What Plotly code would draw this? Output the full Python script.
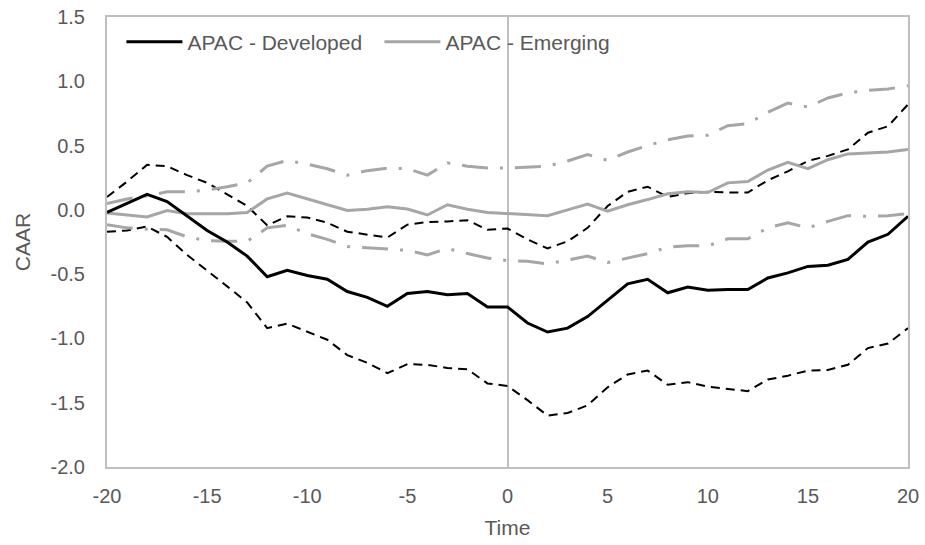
import plotly.graph_objects as go

time = list(range(-20, 21))

dev_mean = [-0.02, 0.05, 0.12, 0.065, -0.05, -0.16, -0.25, -0.36, -0.52, -0.47, -0.51,
            -0.54, -0.635, -0.68, -0.75, -0.65, -0.635, -0.66, -0.65, -0.755, -0.755,
            -0.88, -0.95, -0.92, -0.83, -0.70, -0.575, -0.54, -0.645, -0.60, -0.625,
            -0.62, -0.62, -0.53, -0.49, -0.44, -0.43, -0.385, -0.25, -0.19, -0.05]
dev_upper = [0.10, 0.22, 0.35, 0.34, 0.27, 0.21, 0.12, 0.03, -0.12, -0.05, -0.06,
             -0.10, -0.17, -0.19, -0.215, -0.115, -0.095, -0.09, -0.08, -0.155, -0.145,
             -0.23, -0.30, -0.245, -0.14, 0.03, 0.14, 0.18, 0.10, 0.13, 0.14,
             0.135, 0.135, 0.23, 0.30, 0.38, 0.42, 0.47, 0.60, 0.65, 0.82]
dev_lower = [-0.17, -0.16, -0.13, -0.21, -0.35, -0.47, -0.595, -0.72, -0.92, -0.885, -0.945,
             -1.01, -1.13, -1.19, -1.27, -1.20, -1.205, -1.23, -1.24, -1.35, -1.37,
             -1.48, -1.60, -1.58, -1.52, -1.38, -1.28, -1.25, -1.36, -1.34, -1.375,
             -1.39, -1.41, -1.32, -1.29, -1.25, -1.245, -1.205, -1.075, -1.04, -0.92]
emg_mean = [-0.025, -0.04, -0.055, -0.005, -0.03, -0.03, -0.03, -0.02, 0.085, 0.13, 0.085,
            0.04, -0.005, 0.005, 0.025, 0.007, -0.04, 0.04, 0.005, -0.02, -0.03,
            -0.035, -0.045, 0.0, 0.045, -0.01, 0.04, 0.08, 0.125, 0.14, 0.135,
            0.21, 0.22, 0.31, 0.37, 0.32, 0.39, 0.435, 0.445, 0.45, 0.47]
emg_upper = [0.05, 0.085, 0.11, 0.14, 0.14, 0.155, 0.18, 0.21, 0.34, 0.385, 0.355,
             0.32, 0.27, 0.305, 0.325, 0.32, 0.27, 0.365, 0.34, 0.325, 0.325,
             0.33, 0.34, 0.38, 0.43, 0.385, 0.45, 0.50, 0.545, 0.575, 0.58,
             0.655, 0.67, 0.76, 0.83, 0.80, 0.87, 0.91, 0.93, 0.94, 0.965]
emg_lower = [-0.115, -0.14, -0.15, -0.155, -0.21, -0.24, -0.245, -0.245, -0.14, -0.12, -0.185,
             -0.23, -0.285, -0.295, -0.30, -0.315, -0.35, -0.30, -0.34, -0.375, -0.395,
             -0.40, -0.42, -0.39, -0.36, -0.41, -0.375, -0.34, -0.29, -0.28, -0.28,
             -0.225, -0.225, -0.14, -0.10, -0.14, -0.09, -0.045, -0.05, -0.045, -0.03]

x_ticks = [-20, -15, -10, -5, 0, 5, 10, 15, 20]
x_tick_labels = ["-20", "-15", "-10", "-5", "0", "5", "10", "15", "20"]
y_ticks = [-2.0, -1.5, -1.0, -0.5, 0.0, 0.5, 1.0, 1.5]
y_tick_labels = ["-2.0", "-1.5", "-1.0", "-0.5", "0.0", "0.5", "1.0", "1.5"]

BLACK = "#000000"
GRAY = "#a6a6a6"
AXIS = "#bfbfbf"
TEXT = "#595959"
FONT = "Liberation Sans, Arial, sans-serif"
DASHDOT = "26px,12px,3px,12px"

fig = go.Figure()
fig.add_trace(go.Scatter(x=time, y=dev_upper, mode="lines", showlegend=False,
                         line=dict(color=BLACK, width=2, dash="9px,6px")))
fig.add_trace(go.Scatter(x=time, y=dev_lower, mode="lines", showlegend=False,
                         line=dict(color=BLACK, width=2, dash="9px,6px")))
fig.add_trace(go.Scatter(x=time, y=emg_upper, mode="lines", showlegend=False,
                         line=dict(color=GRAY, width=3, dash=DASHDOT)))
fig.add_trace(go.Scatter(x=time, y=emg_lower, mode="lines", showlegend=False,
                         line=dict(color=GRAY, width=3, dash=DASHDOT)))
fig.add_trace(go.Scatter(x=time, y=emg_mean, mode="lines", name="APAC - Emerging",
                         line=dict(color=GRAY, width=3)))
fig.add_trace(go.Scatter(x=time, y=dev_mean, mode="lines", name="APAC - Developed",
                         line=dict(color=BLACK, width=3)))

fig.update_layout(
    width=925, height=545,
    margin=dict(l=107, r=17, t=17, b=78, autoexpand=False),
    paper_bgcolor="white", plot_bgcolor="white",
    font=dict(family=FONT, size=20, color=TEXT),
    showlegend=True,
    legend=dict(orientation="h", x=0.018, y=0.99, xanchor="left", yanchor="top",
                traceorder="reversed", bgcolor="rgba(0,0,0,0)",
                font=dict(family=FONT, size=21, color=TEXT),
                itemwidth=56, entrywidth=187, entrywidthmode="pixels"),
    xaxis=dict(range=[-20, 20], tickvals=x_ticks, ticktext=x_tick_labels,
               automargin=False, ticklabelstandoff=10,
               showgrid=False, showline=True, linecolor=AXIS, linewidth=2, mirror=True,
               zeroline=True, zerolinecolor=AXIS, zerolinewidth=2,
               ticks="", title=dict(text="Time", standoff=14,
                                    font=dict(family=FONT, size=21, color=TEXT)),
               tickfont=dict(family=FONT, size=20, color=TEXT)),
    yaxis=dict(range=[-2.0, 1.5], tickvals=y_ticks, ticktext=y_tick_labels,
               automargin=False, ticklabelstandoff=16,
               showgrid=False, showline=True, linecolor=AXIS, linewidth=2, mirror=True,
               zeroline=False, ticks="",
               title=dict(text="CAAR", standoff=14,
                          font=dict(family=FONT, size=21, color=TEXT)),
               tickfont=dict(family=FONT, size=20, color=TEXT)),
)

fig.write_html("out.html", config={"displayModeBar": False},
               post_script="document.body.style.margin='0';document.body.style.overflow='hidden';")
